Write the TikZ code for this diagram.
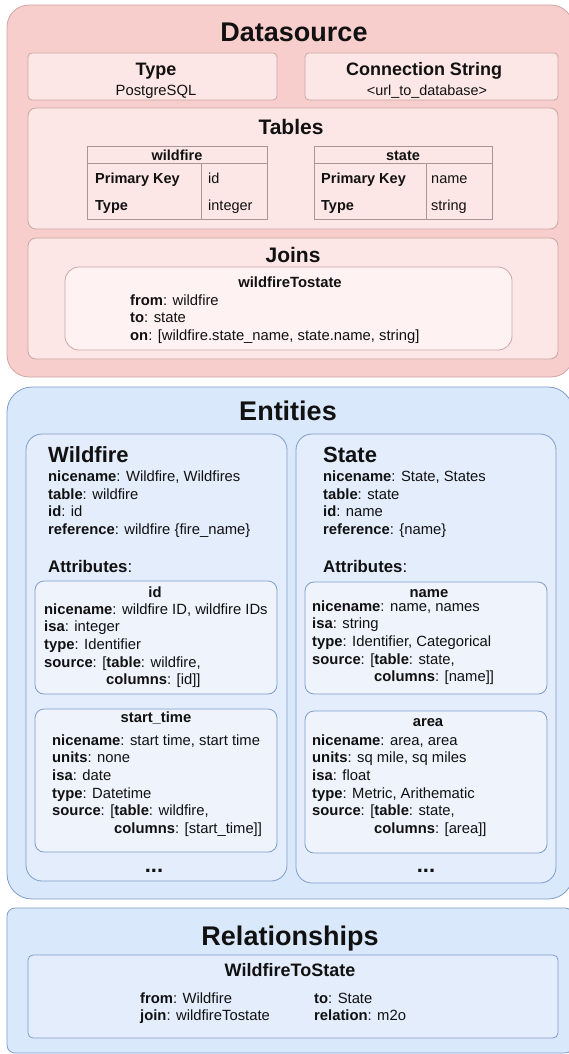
\documentclass[tikz,border=0pt]{standalone}
\usepackage{fontspec}
\setmainfont{Liberation Sans}
\definecolor{dsfill}{HTML}{F8CECC}
\definecolor{dsline}{HTML}{D0A6A5}
\definecolor{dsin}{HTML}{FDE6E6}
\definecolor{dsinline}{HTML}{C9A7A7}
\definecolor{dsin2}{HTML}{FFF2F2}
\definecolor{tline}{HTML}{A99595}
\definecolor{enfill}{HTML}{DAE8FC}
\definecolor{enline}{HTML}{7E9DCB}
\definecolor{enin}{HTML}{E3EDFC}
\definecolor{enin2}{HTML}{EEF3FC}
\definecolor{txt}{HTML}{111111}
\newcommand\kv[2]{\textbf{#1}: #2}
\newcommand\blk[1]{\begin{tabular}[t]{@{}l@{}}#1\end{tabular}}
\newcommand\bx[6]{\node[box,#6,minimum width={#4pt-#2pt},minimum height={#5pt-#3pt}] (#1) at (#2,#3) {};}
\begin{document}
\begin{tikzpicture}[x=1pt,y=-1pt,
  box/.style={draw,line width=0.8pt,inner sep=0pt,outer sep=0pt,anchor=north west},
  dsouter/.style={fill=dsfill,draw=dsline,rounded corners=22pt},
  dsbox/.style={fill=dsin,draw=dsinline},
  enouter/.style={fill=enfill,draw=enline},
  enbox/.style={fill=enin,draw=enline},
  attbox/.style={fill=enin2,draw=enline,rounded corners=9pt},
  tbl/.style={fill=dsin,draw=tline,line width=0.8pt},
  tlines/.style={draw=tline,line width=0.8pt},
  hbig/.style={font=\fontsize{27}{32}\selectfont\bfseries,anchor=base,inner sep=0pt,text=txt},
  hmid/.style={font=\fontsize{21}{25}\selectfont\bfseries,anchor=base,inner sep=0pt,text=txt},
  hsub/.style={font=\fontsize{18}{22}\selectfont\bfseries,anchor=base,inner sep=0pt,text=txt},
  hent/.style={font=\fontsize{22}{26}\selectfont\bfseries,anchor=base west,inner sep=0pt,text=txt},
  hatt/.style={font=\fontsize{16.8}{20}\selectfont,anchor=base west,inner sep=0pt,text=txt},
  body/.style={font=\fontsize{14.8}{17.7}\selectfont,anchor=base west,inner sep=0pt,text=txt},
  bodyc/.style={font=\fontsize{14.8}{17.7}\selectfont,anchor=base,inner sep=0pt,text=txt},
  btitle/.style={font=\fontsize{14.8}{17.7}\selectfont\bfseries,anchor=base,inner sep=0pt,text=txt},
  tcell/.style={font=\fontsize{14.5}{17}\selectfont,anchor=base west,inner sep=0pt,text=txt},
  dots/.style={font=\fontsize{22}{26}\selectfont\bfseries,anchor=base,inner sep=0pt,text=txt}
]
\useasboundingbox (0,0) rectangle (569,1054);
\clip (0,0) rectangle (569,1054);

% ---------------- Datasource ----------------
\bx{ds}{7}{5}{573}{377}{dsouter}
\node[hbig] (dstitle) at (294,41.5) {Datasource};

\bx{typebox}{28}{53}{277}{100}{dsbox,rounded corners=4pt}
\node[hsub] (typet) at (156,76) {Type};
\node[bodyc] (typev) at (156,96) {PostgreSQL};

\bx{connbox}{305}{53}{558}{100}{dsbox,rounded corners=4pt}
\node[hsub] (connt) at (424,76) {Connection String};
\node[bodyc,font=\fontsize{14.4}{17}\selectfont] (connv) at (427,96) {<url\_to\_database>};

\bx{tables}{28}{108}{558}{229}{dsbox,rounded corners=8pt}
\node[hmid] (tablest) at (291,135) {Tables};

% wildfire table
\bx{twf}{87}{146}{267}{219}{tbl}
\draw[tlines] (87,163) -- (267,163);
\draw[tlines] (201,163) -- (201,219);
\node[btitle,font=\fontsize{14.5}{17}\selectfont\bfseries] (twfh) at (177,160.5) {wildfire};
\node[tcell] (twf1) at (95,183) {\textbf{Primary Key}};
\node[tcell] (twf2) at (208,183) {id};
\node[tcell] (twf3) at (95,210) {\textbf{Type}};
\node[tcell] (twf4) at (208,210) {integer};

% state table
\bx{tst}{314}{146}{492}{219}{tbl}
\draw[tlines] (314,163) -- (492,163);
\draw[tlines] (426,163) -- (426,219);
\node[btitle,font=\fontsize{14.5}{17}\selectfont\bfseries] (tsth) at (403,160.5) {state};
\node[tcell] (tst1) at (321,183) {\textbf{Primary Key}};
\node[tcell] (tst2) at (431,183) {name};
\node[tcell] (tst3) at (321,210) {\textbf{Type}};
\node[tcell] (tst4) at (431,210) {string};

% joins
\bx{joins}{28}{238}{558}{359}{dsbox,rounded corners=8pt}
\node[hmid] (joinst) at (293,262) {Joins};
\bx{jbox}{65}{267}{512}{350}{fill=dsin2,draw=dsinline,rounded corners=14pt}
\node[btitle] (jboxt) at (290,287) {wildfireTostate};
\node[body] (jlines) at (130,305) {\blk{\kv{from}{wildfire}\\ \kv{to}{state}\\ \kv{on}{[wildfire.state\_name, state.name, string]}}};

% ---------------- Entities ----------------
\bx{ent}{7}{387}{573}{899}{enouter,rounded corners=25pt}
\node[hbig] (entt) at (288,420) {Entities};

% Wildfire entity
\bx{wf}{26}{434}{287}{881}{enbox,rounded corners=16pt}
\node[hent] (wft) at (48,462) {Wildfire};
\node[body] (wfp) at (48,481.5) {\blk{\kv{nicename}{Wildfire, Wildfires}\\ \kv{table}{wildfire}\\ \kv{id}{id}\\ \kv{reference}{wildfire \{fire\_name\}}}};
\node[hatt] (wfa) at (48,572) {\textbf{Attributes}:};

\bx{wfid}{35}{581}{277}{694}{attbox}
\node[btitle] (wfidt) at (155,597) {id};
\node[body] (wfidp) at (44,614) {\blk{\kv{nicename}{wildfire ID, wildfire IDs}\\ \kv{isa}{integer}\\ \kv{type}{Identifier}\\ \kv{source}{[\textbf{table}: wildfire,}}};
\node[body] (wfidc) at (106,684.5) {\kv{columns}{[id]]}};

\bx{wfst}{35}{709}{277}{852}{attbox}
\node[btitle] (wfstt) at (156,722.5) {start\_time};
\node[body] (wfstp) at (52,745) {\blk{\kv{nicename}{start time, start time}\\ \kv{units}{none}\\ \kv{isa}{date}\\ \kv{type}{Datetime}\\ \kv{source}{[\textbf{table}: wildfire,}}};
\node[body] (wfstc) at (114,833.5) {\kv{columns}{[start\_time]]}};
\node[dots] (wfdots) at (154,872) {...};

% State entity
\bx{st}{296}{434}{556}{883}{enbox,rounded corners=16pt}
\node[hent] (stt) at (323,462) {State};
\node[body] (stp) at (323,481.5) {\blk{\kv{nicename}{State, States}\\ \kv{table}{state}\\ \kv{id}{name}\\ \kv{reference}{\{name\}}}};
\node[hatt] (sta) at (323,572) {\textbf{Attributes}:};

\bx{stname}{305}{582}{547}{694}{attbox}
\node[btitle] (stnamet) at (429,597) {name};
\node[body] (stnamep) at (312,611) {\blk{\kv{nicename}{name, names}\\ \kv{isa}{string}\\ \kv{type}{Identifier, Categorical}\\ \kv{source}{[\textbf{table}: state,}}};
\node[body] (stnamec) at (374,681.5) {\kv{columns}{[name]]}};

\bx{starea}{305}{711}{547}{853}{attbox}
\node[btitle] (stareat) at (428,726) {area};
\node[body] (stareap) at (312,745) {\blk{\kv{nicename}{area, area}\\ \kv{units}{sq mile, sq miles}\\ \kv{isa}{float}\\ \kv{type}{Metric, Arithematic}\\ \kv{source}{[\textbf{table}: state,}}};
\node[body] (stareac) at (374,833.5) {\kv{columns}{[area]]}};
\node[dots] (stdots) at (426,872) {...};

% ---------------- Relationships ----------------
\bx{rel}{7}{908}{573}{1053}{enouter,rounded corners=8pt}
\node[hbig] (relt) at (290,945) {Relationships};
\bx{relbox}{28}{955}{558}{1038}{enbox,rounded corners=5pt}
\node[hsub] (relboxt) at (290,976.5) {WildfireToState};
\node[body] (rell) at (140,1003) {\blk{\kv{from}{Wildfire}\\ \kv{join}{wildfireTostate}}};
\node[body] (relr) at (314,1003) {\blk{\kv{to}{State}\\ \kv{relation}{m2o}}};
\end{tikzpicture}
\end{document}
